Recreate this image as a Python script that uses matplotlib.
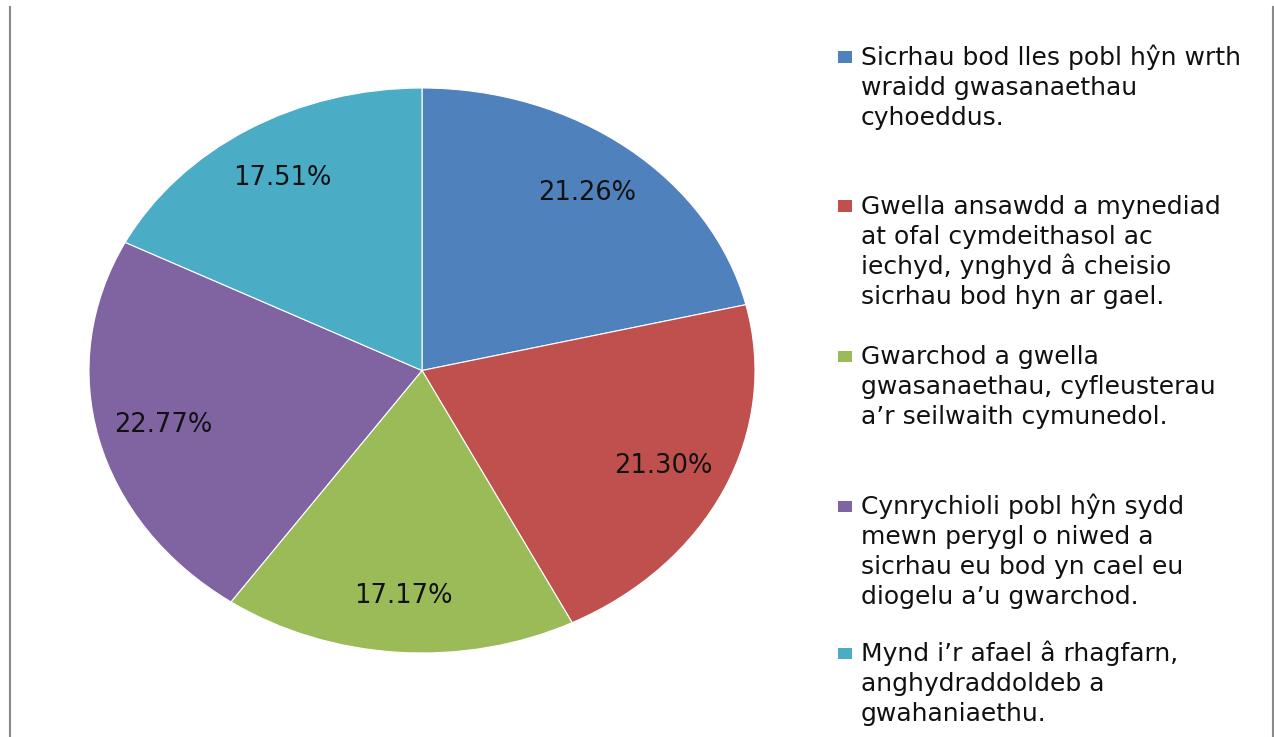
import matplotlib
matplotlib.use("Agg")
import matplotlib.pyplot as plt
from matplotlib.patches import Rectangle
from matplotlib.lines import Line2D

categories = [
    "Sicrhau bod lles pobl hŷn wrth\nwraidd gwasanaethau\ncyhoeddus.",
    "Gwella ansawdd a mynediad\nat ofal cymdeithasol ac\niechyd, ynghyd â cheisio\nsicrhau bod hyn ar gael.",
    "Gwarchod a gwella\ngwasanaethau, cyfleusterau\na’r seilwaith cymunedol.",
    "Cynrychioli pobl hŷn sydd\nmewn perygl o niwed a\nsicrhau eu bod yn cael eu\ndiogelu a’u gwarchod.",
    "Mynd i’r afael â rhagfarn,\nanghydraddoldeb a\ngwahaniaethu.",
]
values = [21.26, 21.30, 17.17, 22.77, 17.51]
colors = ["#4F81BD", "#C0504D", "#9BBB59", "#8064A2", "#4BACC6"]

W, H = 1274, 737
FS = 18
plt.rcParams['font.family'] = ['DejaVu Sans']
fig = plt.figure(figsize=(W / 100, H / 100), dpi=100)
fig.patch.set_facecolor("white")

# pie (elliptical, as in the reference)
cx, cy, rx, ry = 422, 370.5, 333, 282.5
ax = fig.add_axes([(cx - rx) / W, (H - cy - ry) / H, 2 * rx / W, 2 * ry / H])
wedges, texts, autotexts = ax.pie(
    values, colors=colors, startangle=90, counterclock=False,
    autopct=lambda p: f"{p:.2f}%", pctdistance=0.8,
    wedgeprops=dict(edgecolor="white", linewidth=0.8),
    textprops=dict(fontsize=FS + 0.5, color="#111111"),
)
ax.set_aspect("auto")
ax.set_xlim(-1, 1)
ax.set_ylim(-1, 1)
ax.axis("off")

# legend, drawn manually to match the reference spacing
first_centers = [57, 206, 356, 506, 653]
line_step = 30
for lab, col, yc in zip(categories, colors, first_centers):
    fig.patches.append(Rectangle((838 / W, (H - yc - 5.5) / H), 14 / W, 11 / H,
                                 transform=fig.transFigure, facecolor=col,
                                 edgecolor="none"))
    for i, line in enumerate(lab.split("\n")):
        base = yc + 8 + i * line_step
        fig.text(861 / W, (H - base) / H, line, fontsize=FS, color="#111111",
                 ha="left", va="baseline")

# frame lines on left and right
fig.add_artist(Line2D([9.5 / W, 9.5 / W], [0, (H - 7) / H], color="#8a8a8a", lw=1.5,
                      transform=fig.transFigure))
fig.add_artist(Line2D([1272.5 / W, 1272.5 / W], [0, (H - 7) / H], color="#8a8a8a", lw=1.5,
                      transform=fig.transFigure))

fig.savefig("out.png", dpi=100, facecolor="white")
